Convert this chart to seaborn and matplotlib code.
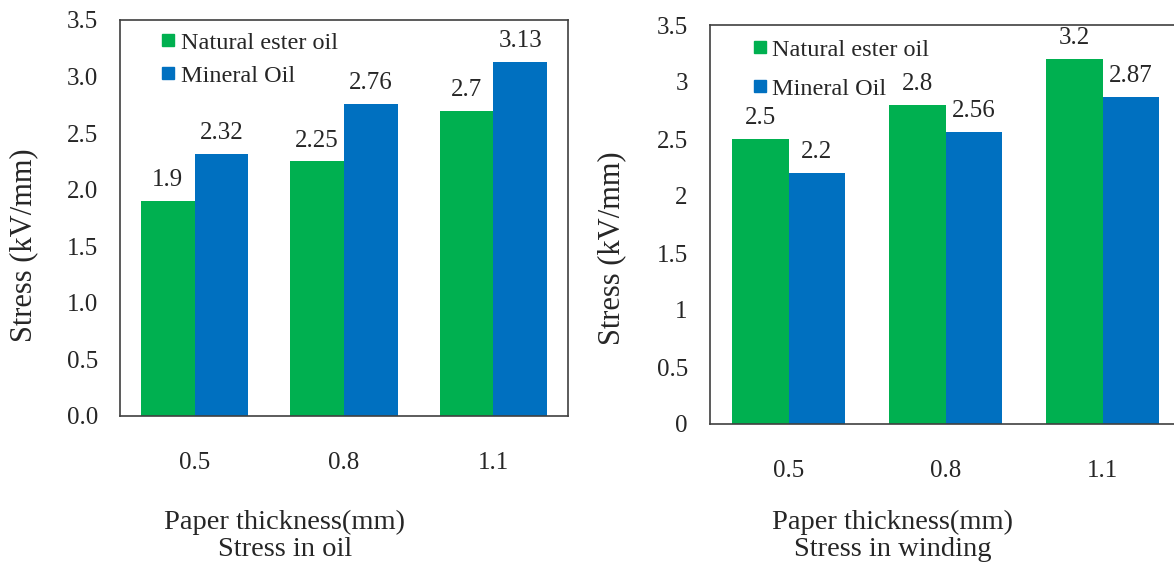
import matplotlib
matplotlib.use("Agg")
import matplotlib.pyplot as plt
import seaborn as sns
import pandas as pd
from matplotlib.lines import Line2D

sns.set_theme(style="white")
plt.rcParams['font.family'] = ['Liberation Serif', 'DejaVu Serif']

categories = ["0.5", "0.8", "1.1"]
series_names = ["Natural ester oil", "Mineral Oil"]
oil_natural = [1.9, 2.25, 2.7]
oil_mineral = [2.32, 2.76, 3.13]
wind_natural = [2.5, 2.8, 3.2]
wind_mineral = [2.2, 2.56, 2.87]
yticks = [0, 0.5, 1.0, 1.5, 2.0, 2.5, 3.0, 3.5]
yticklabels_oil = ["0.0", "0.5", "1.0", "1.5", "2.0", "2.5", "3.0", "3.5"]
yticklabels_wind = ["0", "0.5", "1", "1.5", "2", "2.5", "3", "3.5"]
colors = {"Natural ester oil": "#00B050", "Mineral Oil": "#0070C0"}


def make_df(nat, mins):
    rows = []
    for c, v in zip(categories, nat):
        rows.append({"thickness": c, "oil": series_names[0], "stress": v})
    for c, v in zip(categories, mins):
        rows.append({"thickness": c, "oil": series_names[1], "stress": v})
    return pd.DataFrame(rows)


fig = plt.figure(figsize=(11.74, 5.66), dpi=100)
W, H = 1174, 566
ax1 = fig.add_axes([120 / W, 1 - 416 / H, 448 / W, 396 / H])
ax2 = fig.add_axes([710 / W, 1 - 424 / H, 471 / W, 399 / H])


def draw(ax, df, ticklabels, legend_y, label_x, label_y, spacing):
    sns.barplot(data=df, x="thickness", y="stress", hue="oil", hue_order=series_names,
                order=categories, palette=colors, width=0.72, saturation=1,
                edgecolor="none", legend=False, ax=ax)
    ax.set_ylim(0, 3.5)
    ax.set_yticks(yticks)
    ax.set_yticklabels(ticklabels, fontsize=18)
    ax.tick_params(axis="y", length=0, pad=16)
    ax.tick_params(axis="x", length=0, pad=26, labelsize=18)
    ax.set_xlabel("")
    ax.set_ylabel("Stress (kV/mm)", fontsize=22)
    ax.yaxis.set_label_coords(label_x, label_y)
    for cont in ax.containers:
        ax.bar_label(cont, labels=[f"{v:g}" for v in cont.datavalues],
                     padding=7, fontsize=18)
    for s in ax.spines.values():
        s.set_color("#404040")
        s.set_linewidth(1.2)
    handles = [Line2D([0], [0], marker="s", linestyle="none", markersize=9,
                      color=colors[n]) for n in series_names]
    ax.legend(handles, series_names, loc="upper left", bbox_to_anchor=(0.07, legend_y),
              frameon=False, fontsize=17.5, handlelength=0.6, handletextpad=0.2,
              labelspacing=spacing, borderaxespad=0)


draw(ax1, make_df(oil_natural, oil_mineral), yticklabels_oil, 0.995,
     -(120 - 38) / 448, (416 - 245) / 396, 0.45)
draw(ax2, make_df(wind_natural, wind_mineral), yticklabels_wind, 0.99,
     -(710 - 626) / 471, (424 - 248) / 399, 0.7)
ax2.spines["right"].set_visible(False)

fig.text(285 / W, 1 - 522 / H, "Paper thickness(mm)", ha="center", va="center", fontsize=20.5)
fig.text(285 / W, 1 - 550 / H, "Stress in oil", ha="center", va="center", fontsize=20.5)
fig.text(893 / W, 1 - 522 / H, "Paper thickness(mm)", ha="center", va="center", fontsize=20.5)
fig.text(893 / W, 1 - 550 / H, "Stress in winding", ha="center", va="center", fontsize=20.5)

fig.savefig("out.png", dpi=100)
